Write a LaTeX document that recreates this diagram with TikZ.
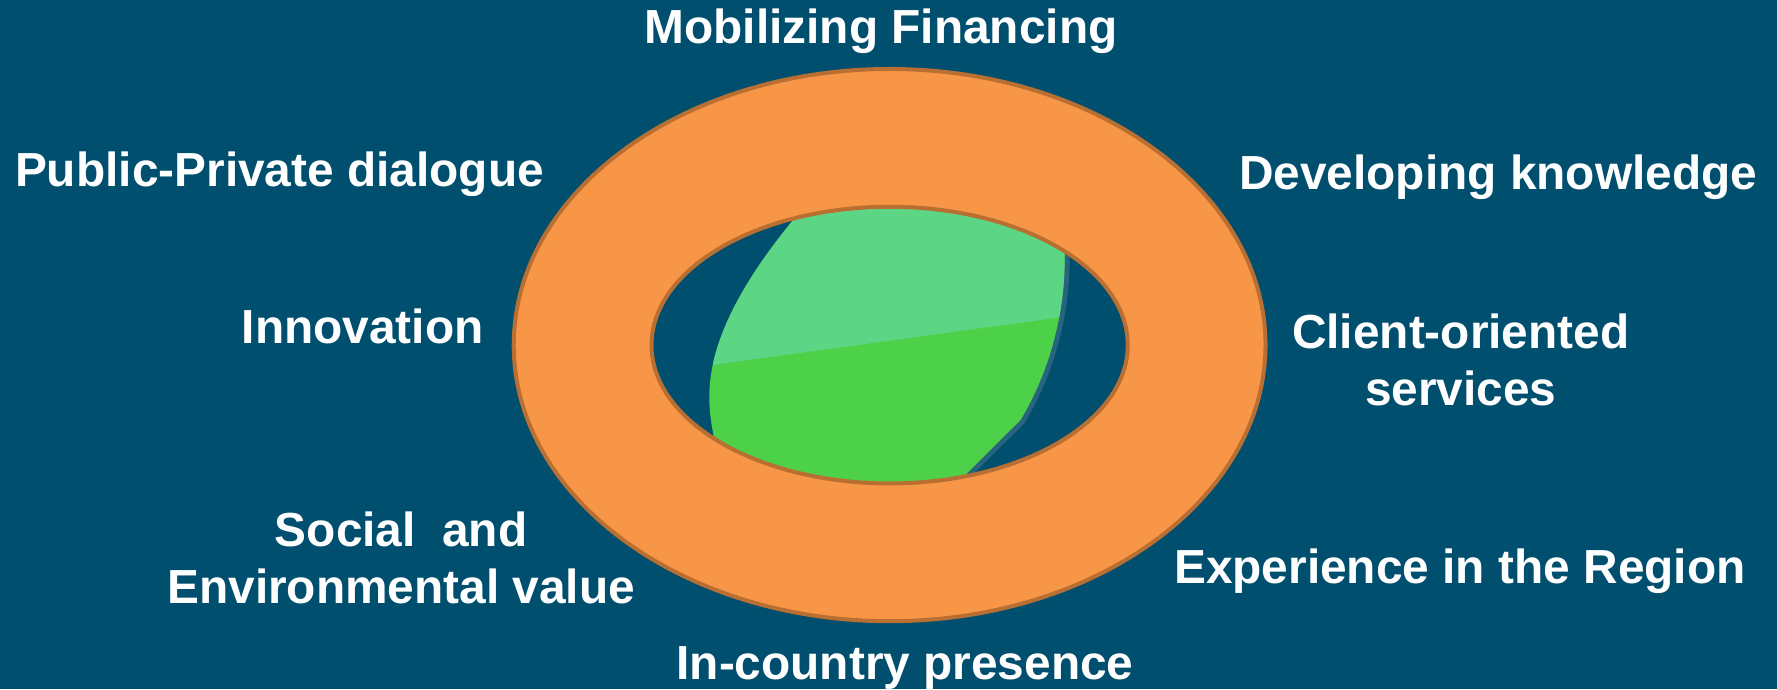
\documentclass[tikz,border=0pt]{standalone}
\usepackage{fontspec}
\setmainfont{Liberation Sans}
\definecolor{bg}{HTML}{004F6E}
\definecolor{ringfill}{HTML}{F79646}
\definecolor{ringline}{HTML}{B96E32}
\definecolor{greenlight}{HTML}{5CD685}
\definecolor{greendark}{HTML}{4CD148}
\definecolor{leafshade}{HTML}{5A7F90}
\begin{document}
\begin{tikzpicture}[x=0.01cm,y=-0.01cm,
  lbl/.style={text=white,font=\fontsize{12}{14.2}\selectfont\bfseries,inner sep=0pt},
  ringedge/.style={draw=ringline,line width=1pt}]
\useasboundingbox (0,0) rectangle (1568,608);
\fill[bg] (0,0) rectangle (1568,608);
% ring
\fill[ringfill] (785,304.5) ellipse [x radius=3.315cm, y radius=2.435cm];
\draw[ringedge] (785,304.5) ellipse [x radius=3.315cm, y radius=2.435cm];
\fill[bg] (785,304.5) ellipse [x radius=2.1cm, y radius=1.22cm];
% green leaf
\begin{scope}
  \clip (785,304.5) ellipse [x radius=2.1cm, y radius=1.22cm];
  % soft shadow along the right edge
  \draw[leafshade,line width=2.5pt,opacity=0.45,line cap=round]
     (833.3,437.6) -- (853.3,417.6) -- (900.5,370.6)
     .. controls (925,330) and (945,270) .. (938,200);
  \clip (720,150) -- (712,181) -- (705,188)
        .. controls (668,232) and (628,290) .. (626,345)
        .. controls (625,365) and (630,390) .. (636,410)
        -- (640,450) -- (833.3,437.6) -- (853.3,417.6) -- (900.5,370.6)
        .. controls (925,330) and (945,270) .. (938,200)
        -- (935,150) -- cycle;
  \fill[greendark] (600,150) rectangle (980,460);
  \fill[greenlight] (600,325.9) -- (980,273.9) -- (980,150) -- (600,150) -- cycle;
\end{scope}
\draw[ringedge] (785,304.5) ellipse [x radius=2.1cm, y radius=1.22cm];
% labels
\node[lbl,anchor=base] (mob) at (777.4,38.2) {Mobilizing Financing};
\node[lbl,anchor=base west] (ppd) at (12.6,164.7) {Public-Private dialogue};
\node[lbl,anchor=base west] (dev) at (1092.6,167.6) {Developing knowledge};
\node[lbl,anchor=base west] (inn) at (212.7,302.9) {Innovation};
\node[lbl,anchor=base,align=center] (cli) at (1289,357.4) {Client-oriented\\services};
\node[lbl,anchor=base,align=center] (soc) at (354,532.4) {Social\ \ and\\Environmental value};
\node[lbl,anchor=base west] (exp) at (1035.4,514.7) {Experience in the Region};
\node[lbl,anchor=base] (inc) at (798.6,600) {In-country presence};
\end{tikzpicture}
\end{document}
